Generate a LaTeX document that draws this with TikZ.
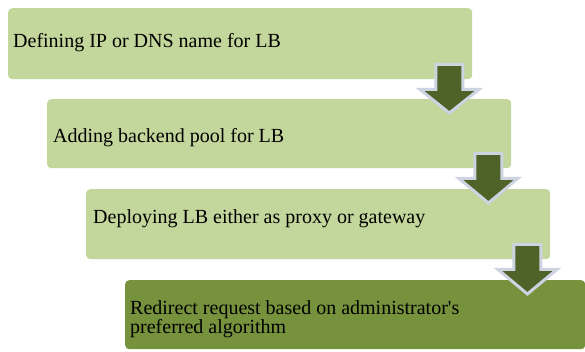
\documentclass[tikz,border=0pt]{standalone}
\usepackage{fontspec}
\setmainfont{Liberation Serif}
\usetikzlibrary{calc}
\definecolor{vertclair}{HTML}{C3D69B}
\definecolor{vertfonce}{HTML}{76923C}
\definecolor{flechefond}{HTML}{4F6228}
\definecolor{flechebord}{HTML}{CDD3E0}
\tikzset{
	stepbox/.style={fill=vertclair,rounded corners=4pt,minimum width=464pt,minimum height=70pt,anchor=north west,inner sep=0pt},
	steptext/.style={anchor=base west,inner sep=0pt,align=left,font=\fontsize{20}{19}\selectfont},
	blockarrow/.style={fill=flechefond,draw=flechebord,line width=3pt,line join=miter}
}
\begin{document}
\begin{tikzpicture}[x=1pt,y=-1pt]
%					Cadre :
					\useasboundingbox (0,0) rectangle (585,351);
%					Tracé des blocs :
					\node[stepbox,minimum height=71pt] (b1) at (8,8) {};
					\node[stepbox,minimum height=69pt] (b2) at (47,99) {};
					\node[stepbox] (b3) at (86,189) {};
					\node[stepbox,fill=vertfonce,minimum width=460pt,minimum height=69pt] (b4) at (125,280) {};
%					Textes :
					\node[steptext] (t1) at (13,47) {Defining IP or DNS name for LB};
					\node[steptext] (t2) at (53,142) {Adding backend pool for LB};
					\node[steptext] (t3) at (93,223) {Deploying LB either as proxy or gateway};
					\node[steptext] (t4) at (130,333) {Redirect request based on administrator\textquotesingle s\\preferred algorithm};
%					Tracé des flèches :
					\foreach \i/\j in {1/2,2/3,3/4}{
						\coordinate (s\i) at ($(b\i.south east)+(-23,-15)$);
						\coordinate (p\i) at ($(b\j.north east)+(-62,0)$);
						\coordinate (e\i) at (s\i |- {$(p\i)+(0,14)$});
						\draw[blockarrow] ($(s\i)+(-13.5,0)$) -- ($(s\i)+(13.5,0)$) -- ($(s\i)+(13.5,25)$) -- ($(s\i)+(29.5,25)$) -- (e\i) -- ($(s\i)+(-29.5,25)$) -- ($(s\i)+(-13.5,25)$) -- cycle;
					}
				\end{tikzpicture}
\end{document}
